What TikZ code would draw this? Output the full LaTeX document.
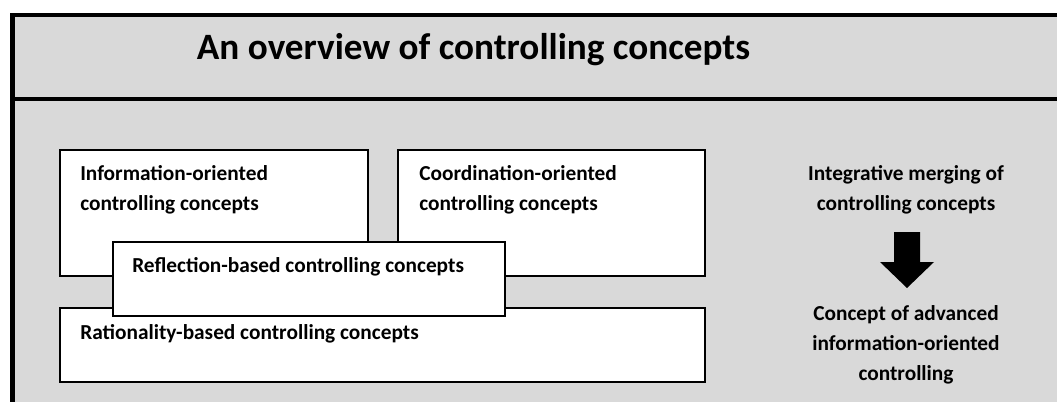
\documentclass[tikz,border=0pt]{standalone}
\usepackage{fontspec}
\setmainfont{Carlito}
\definecolor{panelgray}{HTML}{D9D9D9}
\begin{document}
\begin{tikzpicture}[x=0.75pt,y=-0.75pt,
  conceptbox/.style={draw=black, line width=1.5pt, fill=white, inner sep=0pt, anchor=north west},
  lbl/.style={font=\bfseries\fontsize{16}{22.5}\selectfont, inner sep=0pt, align=left, anchor=base west},
  sidelbl/.style={font=\bfseries\fontsize{16}{22.5}\selectfont, inner sep=0pt, align=center, anchor=base},
  titlelbl/.style={font=\bfseries\fontsize{27.9}{30}\selectfont, inner sep=0pt, anchor=base},
  frameline/.style={line width=3.6pt}]
\useasboundingbox (0,0) rectangle (1057,401);

% panel with header strip
\fill[panelgray] (12.5,15) rectangle (1080,420);
\draw[frameline] (12.5,420) -- (12.5,15) -- (1080,15);
\draw[frameline] (12.5,99) -- (1080,99);
\node[titlelbl] (title) at (473.5,59) {An overview of controlling concepts};

% concept boxes
\node[conceptbox, minimum width=231pt, minimum height=94.5pt] (info) at (59,149) {};
\node[conceptbox, minimum width=230.25pt, minimum height=94.5pt] (coord) at (397,149) {};
\node[conceptbox, minimum width=483.75pt, minimum height=55.5pt] (rat) at (59,307) {};
\node[conceptbox, minimum width=294pt, minimum height=55.5pt] (refl) at (112,241) {};

% labels (anchored at the baseline of their last line)
\node[lbl] (infotxt) at (80,210) {Information-oriented\\controlling concepts};
\node[lbl] (coordtxt) at (419,210) {Coordination-oriented\\controlling concepts};
\node[lbl] (rattxt) at (80,339) {Rationality-based controlling concepts};
\node[lbl] (refltxt) at (132,272) {Reflection-based controlling concepts};

% merging on the right
\node[sidelbl] (merge) at (906,210) {Integrative merging of\\controlling concepts};
\node[sidelbl] (adv) at (906,380) {Concept of advanced\\information-oriented\\controlling};
\fill[black] (894,232) -- (920,232) -- (920,262) -- (934,262) -- (907,288)
  -- (880,262) -- (894,262) -- cycle;
\end{tikzpicture}
\end{document}
